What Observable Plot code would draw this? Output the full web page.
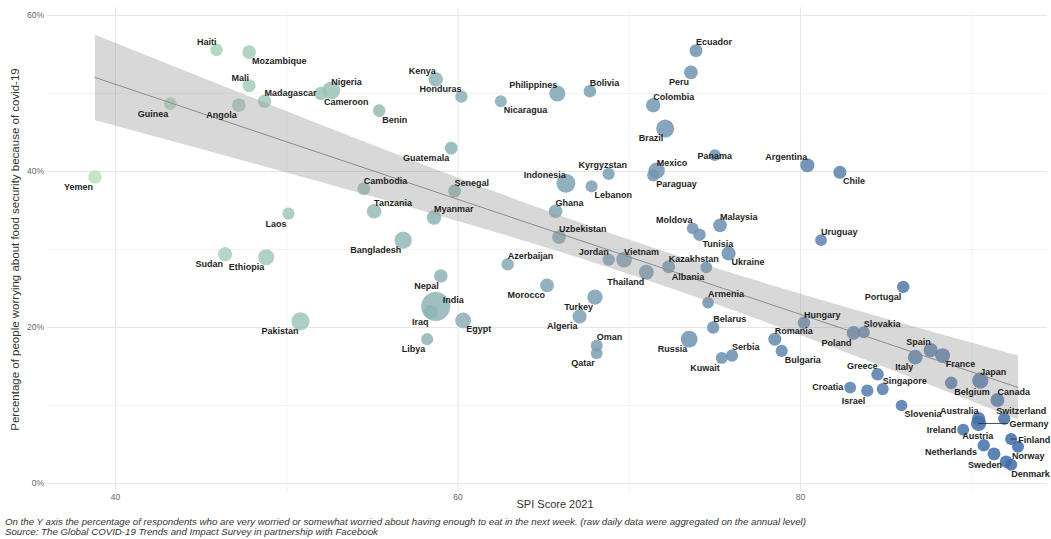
<!DOCTYPE html>
<html><head><meta charset="utf-8">
<script src="https://cdn.jsdelivr.net/npm/d3@7"></script>
<script src="https://cdn.jsdelivr.net/npm/@observablehq/plot@0.6"></script>
<style>
body{margin:0;background:#fff;font-family:"Liberation Sans",Arial,sans-serif;}
#cap{font-style:italic;font-size:9.7px;line-height:10px;color:#333;padding:2px 0 0 5px;white-space:nowrap;}
</style></head><body>
<div id="chart"></div>
<div id="cap"></div>
<script>
// ---- data ----
const countries = ["Haiti","Mozambique","Mali","Madagascar","Angola","Guinea","Yemen","Laos","Nigeria","Cameroon",
 "Kenya","Honduras","Benin","Nicaragua","Philippines","Bolivia","Ecuador","Peru","Colombia","Brazil",
 "Guatemala","Cambodia","Senegal","Tanzania","Myanmar","Bangladesh","Indonesia","Kyrgyzstan","Lebanon","Mexico",
 "Paraguay","Panama","Argentina","Chile","Ghana","Uzbekistan","Moldova","Tunisia","Malaysia","Uruguay",
 "Sudan","Ethiopia","Pakistan","Azerbaijan","Nepal","India","Iraq","Egypt","Libya","Morocco",
 "Turkey","Algeria","Oman","Qatar","Jordan","Vietnam","Thailand","Kazakhstan","Albania","Ukraine",
 "Armenia","Russia","Belarus","Kuwait","Serbia","Romania","Bulgaria","Hungary","Portugal","Poland",
 "Slovakia","Spain","France","Italy","Greece","Croatia","Israel","Singapore","Japan","Belgium",
 "Canada","Slovenia","Australia","Switzerland","Germany","Ireland","Austria","Netherlands","Finland","Norway",
 "Sweden","Denmark"];
const spiScore = [45.9,47.8,47.8,48.7,47.2,43.2,38.8,50.1,52.6,52.0,
 58.7,60.2,55.4,62.5,65.8,67.7,73.9,73.6,71.4,72.1,
 59.6,54.5,59.8,55.1,58.6,56.8,66.3,68.8,67.8,71.6,
 71.4,75.0,80.4,82.3,65.7,65.9,73.7,74.1,75.3,81.2,
 46.4,48.8,50.8,62.9,59.0,58.7,58.4,60.3,58.2,65.2,
 68.0,67.1,68.1,68.1,68.8,69.7,71.0,72.3,74.5,75.8,
 74.6,73.5,74.9,75.4,76.0,78.5,78.9,80.2,86.0,83.1,
 83.7,87.6,88.3,86.7,84.5,82.9,83.9,84.8,90.5,88.8,
 91.5,85.9,90.4,91.9,90.4,89.5,90.7,91.3,92.3,92.7,
 92.0,92.3];
const worriedPct = [55.6,55.3,51.0,49.0,48.5,48.7,39.3,34.6,50.4,50.0,
 51.8,49.6,47.8,49.0,50.0,50.3,55.5,52.7,48.5,45.5,
 43.0,37.8,37.5,34.9,34.1,31.2,38.5,39.7,38.1,40.1,
 39.5,42.1,40.8,39.9,34.9,31.6,32.7,31.9,33.1,31.2,
 29.4,29.0,20.8,28.1,26.6,22.7,22.0,20.9,18.5,25.4,
 23.9,21.4,17.7,16.7,28.7,28.7,27.1,27.8,27.7,29.5,
 23.2,18.5,20.0,16.1,16.4,18.5,17.0,20.6,25.2,19.3,
 19.4,17.1,16.4,16.2,14.0,12.3,11.9,12.1,13.2,12.9,
 10.7,10.0,8.3,8.3,7.7,6.9,4.9,3.8,5.7,4.7,
 2.8,2.4];
const populationM = [11.4,31,20,28,33,13,30,7.3,206,26.5,
 54,10,12,6.6,110,11.7,17.6,33,51,213,
 17,16.7,16.7,60,54,165,274,6.6,6.8,129,
 7.1,4.3,45,19,31,34,2.6,11.8,32,3.5,
 44,115,221,10,29,1380,40,102,6.9,37,
 84,44,5.1,2.9,10,97,70,19,2.9,44,
 3,146,9.4,4.3,6.9,19,6.9,9.7,10.3,38,
 5.5,47,67,60,10.7,4,9.2,5.7,126,11.5,
 38,2.1,25.7,8.6,83,5,8.9,17.4,5.5,5.4,
 10.4,5.8];
const xTicks = [40,60,80];
const xMinor = [50,70,90];
const yTicks = [0,20,40,60];
const yMinor = [10,30,50];
const xTitle = "SPI Score 2021";
const yTitle = "Percentage of people worrying about food security because of covid-19";
const captionLines = [
 "On the Y axis the percentage of respondents who are very worried or somewhat worried about having enough to eat in the next week. (raw daily data were aggregated on the annual level)",
 "Source: The Global COVID-19 Trends and Impact Survey in partnership with Facebook"
];

// ---- label placement (direction codes, like a repel layout) ----
const placement = {
 Haiti:"nw",Mozambique:"se",Mali:"nw",Madagascar:"ne",Angola:"sw",Guinea:"sw",Yemen:"sw",Laos:"sw",Nigeria:"ne",Cameroon:"se",
 Kenya:"nw",Honduras:"nw",Benin:"se",Nicaragua:"se",Philippines:"nw",Bolivia:"ne",Ecuador:"ne",Peru:"sw",Colombia:"ne",Brazil:"sw",
 Guatemala:"sw",Cambodia:"ne",Senegal:"ne",Tanzania:"ne",Myanmar:"ne",Bangladesh:"sw",Indonesia:"nw",Kyrgyzstan:"n",Lebanon:"se",Mexico:"ne",
 Paraguay:"se",Panama:"c",Argentina:"nw",Chile:"se",Ghana:"ne",Uzbekistan:"ne",Moldova:"nw",Tunisia:"se",Malaysia:"ne",Uruguay:"ne",
 Sudan:"sw",Ethiopia:"sw",Pakistan:"sw",Azerbaijan:"ne",Nepal:"sw",India:"ene",Iraq:"sw",Egypt:"se",Libya:"sw",Morocco:"sw",
 Turkey:"sw",Algeria:"sw",Oman:"ne",Qatar:"sw",Jordan:"nw",Vietnam:"ne",Thailand:"sw",Kazakhstan:"ne",Albania:"sw",Ukraine:"se",
 Armenia:"ne",Russia:"sw",Belarus:"ne",Kuwait:"sw",Serbia:"ne",Romania:"ne",Bulgaria:"se",Hungary:"ne",Portugal:"sw",Poland:"sw",
 Slovakia:"ne",Spain:"nw",France:"se",Italy:"sw",Greece:"nw",Croatia:"w",Israel:"sw",Singapore:"ne",Japan:"ne",Belgium:"se",
 Canada:"ne",Slovenia:"se",Australia:"nw",Switzerland:"nne",Germany:"lead30",Ireland:"w",Austria:"n",Netherlands:"wfar",Finland:"lead6",Norway:"ssw",
 Sweden:"wlow",Denmark:"sse"
};
const anchors = {
 ne:{textAnchor:"start",dx:0,dy:-8},
 nne:{textAnchor:"start",dx:-8,dy:-8},
 nw:{textAnchor:"end",dx:0,dy:-8},
 se:{textAnchor:"start",dx:3,dy:9},
 sse:{textAnchor:"start",dx:0,dy:9},
 ssw:{textAnchor:"start",dx:-6,dy:9},
 sw:{textAnchor:"end",dx:-2,dy:10},
 n:{textAnchor:"middle",dx:-6,dy:-9},
 w:{textAnchor:"end",dx:-7,dy:0},
 wfar:{textAnchor:"end",dx:-17,dy:-2},
 wlow:{textAnchor:"end",dx:-4,dy:3},
 c:{textAnchor:"middle",dx:0,dy:1},
 ene:{textAnchor:"start",dx:7,dy:-6},
 lead30:{textAnchor:"start",dx:31,dy:1},
 lead6:{textAnchor:"start",dx:7,dy:1}
};
const leaders = {lead30:29, lead6:5};

const data = countries.map((c,i)=>({country:c, spi:spiScore[i], pct:worriedPct[i], pop:populationM[i], pos:placement[c]||"ne"}));

const lineShape = {draw(context, l){ context.moveTo(0,0); context.lineTo(0,-l); }};

const labelMarks = Object.entries(anchors).map(([k,a]) =>
  Plot.text(data.filter(d=>d.pos===k), {x:"spi", y:"pct", text:"country", fontSize:9, fontWeight:"bold", fill:"#1e1e1e", ...a}));
const leaderMarks = Object.entries(leaders).map(([k,len]) =>
  Plot.vector(data.filter(d=>d.pos===k), {x:"spi", y:"pct", length:len, rotate:90, anchor:"start", shape:lineShape, stroke:"#333", strokeWidth:0.9}));

const chart = Plot.plot({
  width:1051, height:515,
  marginLeft:46.5, marginRight:4.4, marginTop:7.2, marginBottom:24.2,
  x:{domain:[36,94.4]},
  y:{domain:[-1,61]},
  color:{type:"linear", domain:[38.8,92.8], range:["#b7e2bb","#3d6aa8"], interpolate:"lab"},
  r:{type:"sqrt", domain:[2.1,1380], range:[5.8,14.5]},
  style:{fontFamily:"Liberation Sans, Arial, sans-serif", background:"#fff", overflow:"visible"},
  marks:[
    Plot.gridX(xMinor, {stroke:"#f3f3f3", strokeOpacity:1}),
    Plot.gridY(yMinor, {stroke:"#f3f3f3", strokeOpacity:1}),
    Plot.gridX(xTicks, {stroke:"#e6e6e6", strokeOpacity:1}),
    Plot.gridY(yTicks, {stroke:"#e6e6e6", strokeOpacity:1}),
    Plot.axisX(xTicks, {tickSize:0, tickPadding:3, fontSize:8.5, color:"#666", label:null}),
    Plot.axisY(yTicks, {tickSize:0, tickPadding:3, fontSize:8.5, color:"#666", label:null, tickFormat:d=>d+"%"}),
    Plot.text([xTitle], {frameAnchor:"bottom", dx:8, dy:17, fontSize:11, fill:"#333", text:d=>d}),
    Plot.text([yTitle], {frameAnchor:"left", textAnchor:"middle", dx:-32, rotate:-90, fontSize:11.5, fill:"#333", text:d=>d}),
    Plot.dot(data, {x:"spi", y:"pct", r:"pop", fill:"spi", fillOpacity:0.85}),
    Plot.linearRegressionY(data, {x:"spi", y:"pct", stroke:"#8c8c8c", strokeWidth:1, fill:"#999", fillOpacity:0.38}),
    ...leaderMarks,
    ...labelMarks
  ]
});
document.getElementById("chart").appendChild(chart);
document.getElementById("cap").innerHTML = captionLines.map(s=>"<div>"+s+"</div>").join("");
</script>
</body></html>
